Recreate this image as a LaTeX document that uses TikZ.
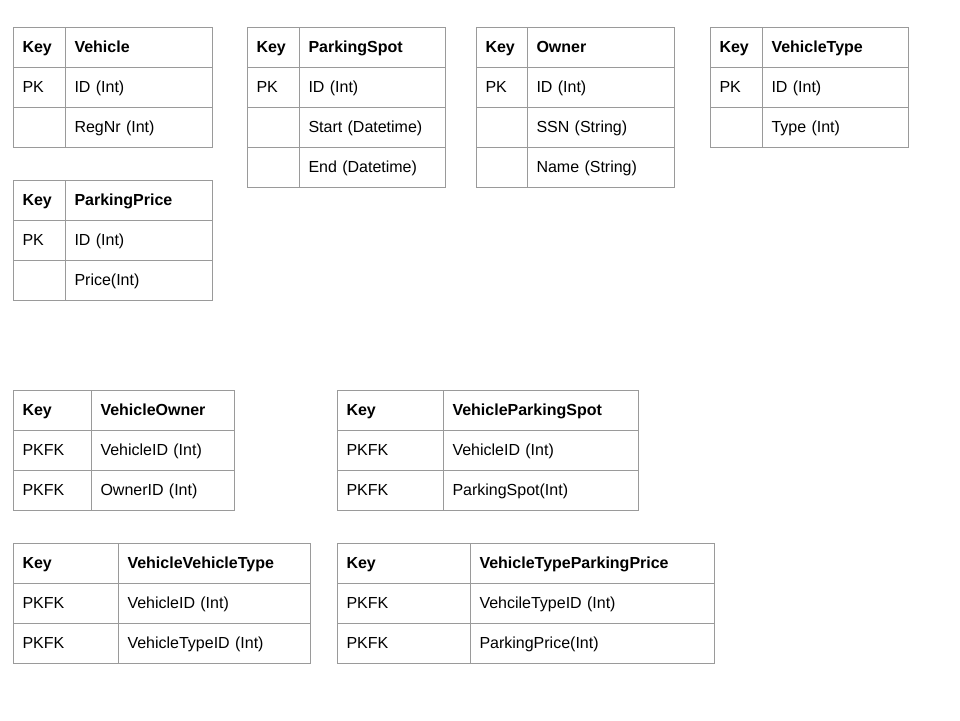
\documentclass[tikz,border=0pt]{standalone}
\usepackage{fontspec}
\setmainfont{Liberation Sans}
\usetikzlibrary{positioning}
\definecolor{gridgray}{HTML}{9A9A9A}
\tikzset{font=\fontsize{16}{18}\selectfont}
\tikzset{cell/.style={draw=gridgray, line width=1pt, minimum height=40pt, outer sep=0pt,
    inner xsep=9.5pt, inner ysep=0pt, text height=13pt, text depth=3pt, align=left}}

% name, x, y, key width, field width, rows
\newcommand{\enttable}[6]{%
  \pgfmathsetmacro{\kw}{#4-19}
  \pgfmathsetmacro{\fw}{#5-19}
  \foreach \k/\f [count=\i] in {#6}
  {
    \node[cell, anchor=north west, text width=\kw pt] (#1-k-\i) at (#2,{#3+40*(\i-1)}) {\ifnum\i=1\bfseries\fi\k};
    \node[cell, right=0pt of #1-k-\i, text width=\fw pt] (#1-f-\i) {\ifnum\i=1\bfseries\fi\f};
  }
}

\begin{document}
\begin{tikzpicture}[x=1pt,y=-1pt]
  \useasboundingbox (0,0) rectangle (960,720);

  \enttable{veh}{13}{27}{52}{147}{Key/Vehicle, PK/ID (Int), /RegNr (Int)}
  \enttable{spot}{247}{27}{52}{146}{Key/ParkingSpot, PK/ID (Int), /Start (Datetime), /End (Datetime)}
  \enttable{own}{476}{27}{51}{147}{Key/Owner, PK/ID (Int), /SSN (String), /Name (String)}
  \enttable{vtype}{710}{27}{52}{146}{Key/VehicleType, PK/ID (Int), /Type (Int)}
  \enttable{price}{13}{180}{52}{147}{Key/ParkingPrice, PK/ID (Int), /Price(Int)}

  \enttable{vown}{13}{390}{78}{143}{Key/VehicleOwner, PKFK/VehicleID (Int), PKFK/OwnerID (Int)}
  \enttable{vspot}{337}{390}{106}{195}{Key/VehicleParkingSpot, PKFK/VehicleID (Int), PKFK/ParkingSpot(Int)}
  \enttable{vvtype}{13}{543}{105}{192}{Key/VehicleVehicleType, PKFK/VehicleID (Int), PKFK/VehicleTypeID (Int)}
  \enttable{vtprice}{337}{543}{133}{244}{Key/VehicleTypeParkingPrice, PKFK/VehcileTypeID (Int), PKFK/ParkingPrice(Int)}
\end{tikzpicture}
\end{document}
